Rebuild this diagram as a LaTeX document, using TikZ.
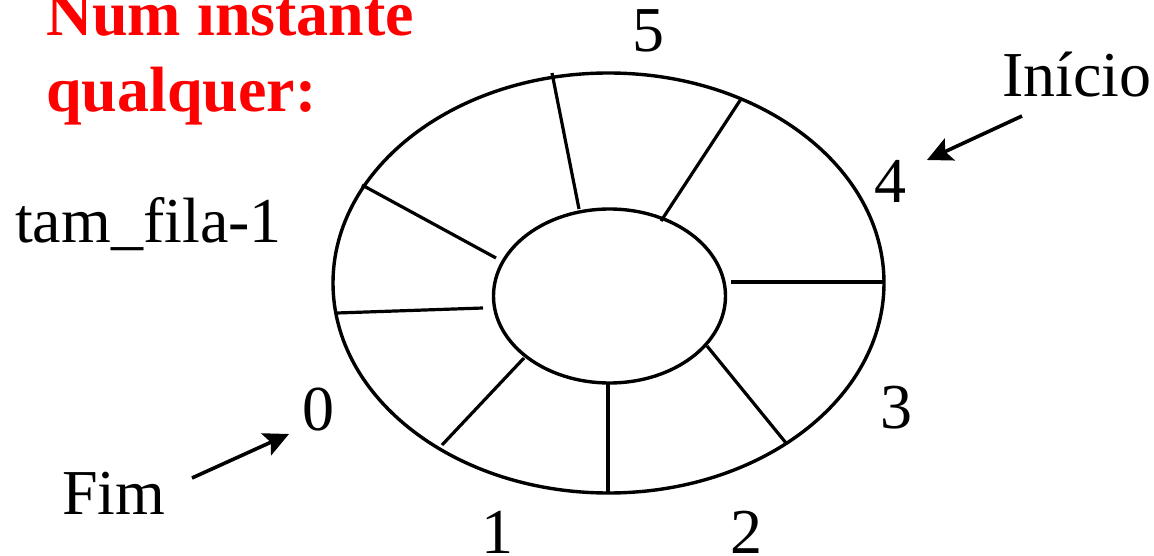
\documentclass[tikz,border=0pt]{standalone}
\usepackage{fontspec}
\setmainfont{Liberation Serif}
\usepackage{tikz}
\usetikzlibrary{arrows.meta}
\definecolor{QueueRed}{HTML}{FF0000}
\definecolor{QueueInk}{HTML}{000000}
\tikzset{
  >={Stealth[length=25pt,width=24pt,inset=5pt]},
  ring/.style={draw=QueueInk,line width=3.4pt},
  spoke/.style={draw=QueueInk,line width=3.2pt},
  pointer/.style={->,line width=3.6pt,draw=QueueInk},
  idxtext/.style={anchor=base,inner sep=0pt,text=QueueInk,
    font=\fontsize{64}{76}\selectfont},
  wordtext/.style={anchor=base west,inner sep=0pt,text=QueueInk,
    font=\fontsize{64}{76}\selectfont},
  titletext/.style={anchor=base west,inner sep=0pt,align=left,text=QueueRed,
    font=\fontsize{64}{76}\selectfont\bfseries}
}
\begin{document}
\begin{tikzpicture}[x=1pt,y=-1pt]
        \useasboundingbox (0,0) rectangle (1154,556);
        \node[titletext] (title) at (46,112) {Num instante\\qualquer:};
        \draw[ring] (608.5,283) ellipse [x radius=275.5pt,y radius=210pt];
        \draw[ring] (609.5,296) ellipse [x radius=116pt,y radius=87pt];
        \draw[spoke] (552,73) -- (579,209);
        \draw[spoke] (741,99) -- (661,221);
        \draw[spoke] (731,282) -- (884,282);
        \draw[spoke] (707,346) -- (786,443);
        \draw[spoke] (608,383) -- (608,493);
        \draw[spoke] (524,358) -- (442,445);
        \draw[spoke] (483,308) -- (337,313);
        \draw[spoke] (496,258) -- (362,185);
        \node[idxtext] (idx5) at (648,52) {5};
        \node[idxtext] (idx4) at (890,203) {4};
        \node[idxtext] (idx3) at (896,428) {3};
        \node[idxtext] (idx2) at (746,553) {2};
        \node[idxtext] (idx1) at (497,553) {1};
        \node[idxtext] (idx0) at (318,430) {0};
        \node[wordtext] (tamfila) at (15,243) {tam\_fila-1};
        \node[wordtext] (inicio) at (1002,97) {Início};
        \node[wordtext] (fim) at (62,514) {Fim};
        \coordinate (inicio tail) at (1022,116);
        \coordinate (inicio tip) at (927,160);
        \coordinate (fim tail) at (192,478);
        \coordinate (fim tip) at (289,434);
        \draw[pointer] (inicio tail) -- (inicio tip);
        \draw[pointer] (fim tail) -- (fim tip);
      \end{tikzpicture}
\end{document}
